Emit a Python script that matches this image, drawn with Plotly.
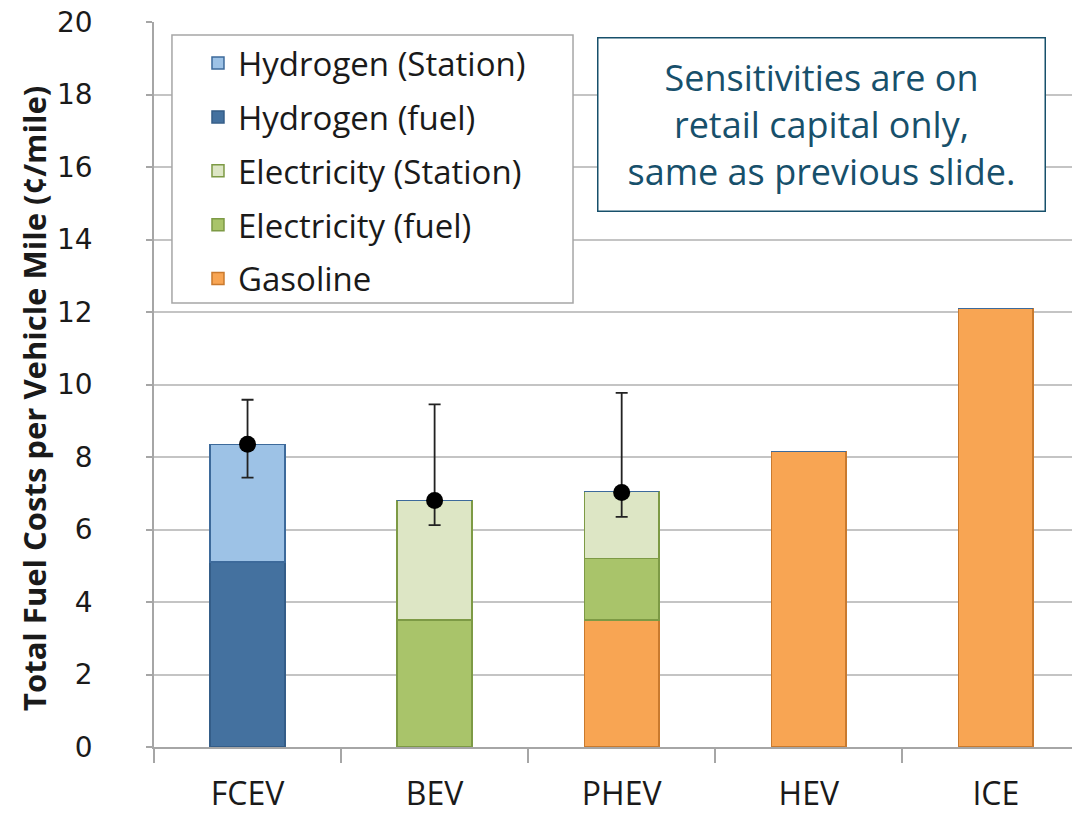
import plotly.graph_objects as go

categories = ["FCEV", "BEV", "PHEV", "HEV", "ICE"]

gasoline = [0, 0, 3.5, 8.15, 12.1]
elec_fuel = [0, 3.5, 1.7, 0, 0]
elec_station = [0, 3.3, 1.85, 0, 0]
h2_fuel = [5.1, 0, 0, 0, 0]
h2_station = [3.25, 0, 0, 0, 0]

err_cats = ["FCEV", "BEV", "PHEV"]
err_center = [8.35, 6.8, 7.02]
err_high = [9.58, 9.45, 9.77]
err_low = [7.43, 6.12, 6.35]

y_ticks = [0, 2, 4, 6, 8, 10, 12, 14, 16, 18, 20]

series = [
    ("Gasoline", gasoline, "#f8a553", "#c97a2e", 5),
    ("Electricity (fuel)", elec_fuel, "#a9c46a", "#7d9a45", 4),
    ("Electricity (Station)", elec_station, "#dde6c5", "#7d9a45", 3),
    ("Hydrogen (fuel)", h2_fuel, "#44719f", "#345d88", 2),
    ("Hydrogen (Station)", h2_station, "#9dc2e6", "#3d6a9b", 1),
]

fig = go.Figure()
for name, vals, fill, edge, rank in series:
    fig.add_trace(go.Bar(
        x=categories, y=vals, name=name, legendgroup=name, legendrank=rank,
        marker=dict(color=fill, line=dict(color=edge, width=1.5)),
        width=0.4,
    ))

fig.add_trace(go.Scatter(
    x=err_cats, y=err_center, mode="markers", showlegend=False,
    marker=dict(color="black", size=17),
    error_y=dict(type="data", symmetric=False,
                 array=[h - c for h, c in zip(err_high, err_center)],
                 arrayminus=[c - l for c, l in zip(err_center, err_low)],
                 color="#222222", thickness=1.8, width=6),
))

fig.update_layout(
    barmode="stack",
    width=1072, height=808,
    margin=dict(l=146, r=0, t=14, b=69),
    plot_bgcolor="white", paper_bgcolor="white",
    font=dict(family="Open Sans", color="#1a1a1a"),
    legend=dict(
        x=0.0475, y=0.982, xanchor="left", yanchor="top",
        traceorder="grouped", tracegroupgap=8,
        font=dict(family="Open Sans", size=33, color="#1a1a1a"),
        bgcolor="rgba(0,0,0,0)", borderwidth=0,
        itemwidth=30,
    ),
    showlegend=True,
)

# legend frame
fig.add_shape(type="rect", xref="paper", yref="paper",
              x0=0.0194, x1=0.4525, y0=0.6124, y1=0.982,
              line=dict(color="#a6a6a6", width=1.5), fillcolor="white",
              layer="above")

fig.update_xaxes(
    range=[-0.5, 4.45], showline=True, linecolor="#a6a6a6", linewidth=1.5,
    ticks="outside", tickson="boundaries", ticklen=14, tickcolor="#a6a6a6",
    tickwidth=1.5, automargin=False, ticklabelstandoff=18,
    tickfont=dict(family="Open Sans", size=32, color="#1a1a1a"),
    showgrid=False,
)
fig.update_yaxes(
    range=[0, 20], tickvals=y_ticks, showline=True, linecolor="#a6a6a6",
    linewidth=1.5, ticks="outside", ticklen=6, tickcolor="#a6a6a6",
    tickwidth=1.5, showgrid=True, gridcolor="#c4c4c4", gridwidth=1.5,
    automargin=False, ticklabelstandoff=48, ticklabeloverflow="allow",
    tickfont=dict(family="DejaVu Sans", size=28, color="#1a1a1a"),
    zeroline=False,
)

# y-axis title
fig.add_annotation(
    xref="paper", yref="paper", x=-0.1296, y=0.4814,
    xanchor="center", yanchor="middle", showarrow=False, textangle=-90,
    text="<b>Total Fuel Costs per Vehicle Mile (¢/mile)</b>",
    font=dict(family="Open Sans", size=31, color="#1a1a1a"),
)

fig.add_annotation(
    xref="paper", yref="paper", x=0.721, y=0.858,
    xanchor="center", yanchor="middle", showarrow=False,
    text="Sensitivities are on<br>retail capital only,<br>same as previous slide.",
    font=dict(family="Open Sans", size=36, color="#17506b"),
    align="center", bgcolor="white", bordercolor="#17506b", borderwidth=1.5,
    width=442, height=168, borderpad=2,
)

fig.write_html("out.html")
